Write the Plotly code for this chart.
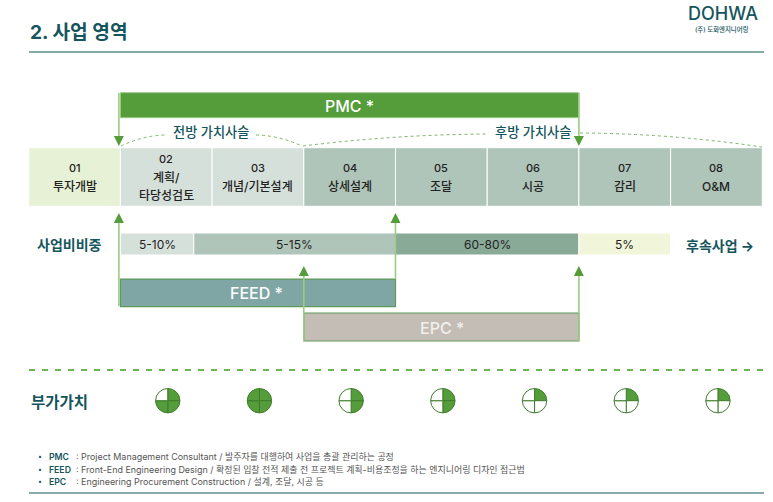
import plotly.graph_objects as go

# stage row
stage_nums = ["01", "02", "03", "04", "05", "06", "07", "08"]
stage_names = [["투자개발"], ["계획/", "타당성검토"], ["개념/기본설계"], ["상세설계"], ["조달"], ["시공"], ["감리"], ["O&M"]]
stage_colors = ["#E7F1D6", "#D6E0DB", "#D6E0DB", "#AFC5B9", "#AFC5B9", "#AFC5B9", "#AFC5B9", "#AFC5B9"]

# share of project cost, spans are in stage units
share_labels = ["5-10%", "5-15%", "60-80%", "5%"]
share_start = [1, 1.8, 4, 6]
share_end = [1.8, 4, 6, 7]
share_colors = ["#D6E0DB", "#AFC5B9", "#8AAA98", "#F1F5DA"]

# service bars
service_labels = ["PMC *", "FEED *", "EPC *"]
service_start = [1, 1, 3]
service_end = [6, 4, 6]

# filled quarters of each ball, clockwise from top right
ball_quarters = [
    [1, 1, 1, 0],
    [1, 1, 1, 1],
    [1, 1, 0, 0],
    [1, 1, 0, 0],
    [1, 0, 0, 0],
    [1, 0, 0, 0],
    [1, 0, 0, 0],
]

note_keys = ["PMC", "FEED", "EPC"]
note_texts = [
    ": Project Management Consultant / 발주자를 대행하여 사업을 총괄 관리하는 공정",
    ": Front-End Engineering Design / 확정된 입찰 전적 제출 전 프로젝트 계획-비용조정을 하는 엔지니어링 디자인 접근법",
    ": Engineering Procurement Construction / 설계, 조달, 시공 등",
]

W, H = 773, 502
X0, STEP = 28.7, 91.7
FONT = "Inter, 'Noto Sans CJK KR', sans-serif"
KR = "'Noto Sans CJK KR', sans-serif"
TEAL = "#15555C"
GREEN = "#549D3A"
LIGHT = "#9CCB86"
RULE = "#5F8F8C"


def px(u):
    return X0 + STEP * u


def unit(p):
    return (p - X0) / STEP


def label(fig, x, y, text, size, color="#222222", anchor="center", weight=400, family=FONT):
    fig.add_annotation(x=x, y=y, text=text, showarrow=False, xanchor=anchor, yanchor="middle",
                       font=dict(size=size, color=color, family=family, weight=weight))


fig = go.Figure()

# stages
fig.add_trace(go.Bar(y=[177] * 8, x=[1] * 8, base=list(range(8)), width=58.6, orientation="h",
                     marker=dict(color=stage_colors, line=dict(color="white", width=1)), hoverinfo="skip"))
for i, num in enumerate(stage_nums):
    lines = [num] + stage_names[i]
    for j, line in enumerate(lines):
        label(fig, i + 0.5, 177 + (j - (len(lines) - 1) / 2) * 18, line, 11 if j == 0 else 12, weight=500)

# shares
fig.add_trace(go.Bar(y=[244] * 4, x=[e - s for s, e in zip(share_start, share_end)], base=share_start,
                     width=22, orientation="h",
                     marker=dict(color=share_colors, line=dict(color="white", width=1)), hoverinfo="skip"))
for s, e, t in zip(share_start, share_end, share_labels):
    label(fig, (s + e) / 2, 244.5, t, 12)
label(fig, unit(69), 244.5, "사업비비중", 14, TEAL, weight=700)
label(fig, unit(720), 245, "후속사업 →", 14, TEAL, weight=700)

# service bars
fig.add_trace(go.Bar(y=[105.2], x=[service_end[0] - service_start[0]], base=[service_start[0]], width=25,
                     orientation="h", marker=dict(color=GREEN, line=dict(color=LIGHT, width=1)), hoverinfo="skip"))
fig.add_trace(go.Bar(y=[292.8], x=[service_end[1] - service_start[1]], base=[service_start[1]], width=27.5,
                     orientation="h", marker=dict(color="#7FA6A5", line=dict(color="#5E9A57", width=1.2)),
                     hoverinfo="skip"))
fig.add_trace(go.Bar(y=[327], x=[service_end[2] - service_start[2]], base=[service_start[2]], width=28,
                     orientation="h", marker=dict(color="#C3BDB6", line=dict(color="#5E9A57", width=1.2)),
                     hoverinfo="skip"))
label(fig, unit(349), 105.5, service_labels[0], 16, "white", weight=500)
label(fig, unit(256.5), 293, service_labels[1], 16, "white", weight=500)
label(fig, unit(441.5), 328, service_labels[2], 16, "#F2F0EC", weight=500)


# arrows: stem from y0 to the tip at y1
def arrow(u, y0, y1):
    d = 1 if y1 > y0 else -1
    xp = px(u) - (1.5 if u == 1 else 0)
    xu = unit(xp)
    fig.add_shape(type="line", x0=xu, x1=xu, y0=y0, y1=y1 - d * 8, line=dict(color=LIGHT, width=1.6))
    fig.add_shape(type="path", path=f"M {unit(xp - 5)} {y1 - d * 10} L {unit(xp + 5)} {y1 - d * 10} L {xu} {y1} Z",
                  fillcolor=GREEN, line=dict(width=0))


arrow(service_start[0], 93, 146)
arrow(service_end[0], 93, 146)
arrow(service_start[1], 306, 213)
arrow(service_end[1], 279, 213)
arrow(service_start[2], 341, 266)
arrow(service_end[2], 341, 266)

# dotted value-chain brackets
for (a, b), (c, d) in [((121, 146), (165, 135)), ((256, 135), (302, 146)),
                       ((303, 146), (488, 134)), ((580, 133), (762, 147))]:
    cy = min(b, d) + 0.5
    fig.add_shape(type="path", path=f"M {unit(a)} {b} Q {unit((a + c) / 2)} {cy} {unit(c)} {d}",
                  line=dict(color="#7DB56B", width=1, dash="dot"))
label(fig, unit(211), 132, "전방 가치사슬", 13.2, TEAL, weight=500)
label(fig, unit(532.5), 132, "후방 가치사슬", 13.2, TEAL, weight=500)

# rules
fig.add_shape(type="line", x0=unit(29), x1=unit(764), y0=52, y1=52, line=dict(color=RULE, width=1.3))
fig.add_shape(type="line", x0=unit(29), x1=unit(764), y0=493, y1=493, line=dict(color=RULE, width=1.3))
fig.add_shape(type="line", x0=unit(29), x1=unit(764), y0=370, y1=370, line=dict(color="#6DB552", width=2, dash="6px,7px"))

# header
label(fig, unit(28), 32, "2. 사업 영역", 19.2, TEAL, "left", 700)
label(fig, unit(722.5), 13.5, "DOHWA", 18, TEAL, weight=500)
label(fig, unit(721.5), 29, "(주) 도화엔지니어링", 6.4, TEAL, weight=500)

# value balls
label(fig, unit(28.5), 400.5, "부가가치", 15.5, TEAL, "left", 700, KR)
for i, quarters in enumerate(ball_quarters):
    c = px(i + 1.5) + 1.5
    r = 12.2
    fig.add_trace(go.Pie(values=[1, 1, 1, 1], sort=False, direction="clockwise", rotation=0,
                         marker=dict(colors=[GREEN if q else "white" for q in quarters],
                                     line=dict(color="#3F7D2C", width=1)),
                         textinfo="none", hoverinfo="skip", showlegend=False,
                         domain=dict(x=[(c - r) / W, (c + r) / W], y=[1 - (400.7 + r) / H, 1 - (400.7 - r) / H])))

# notes
for k, t, y in zip(note_keys, note_texts, [456.5, 469, 481]):
    label(fig, unit(40), y, "•", 7, TEAL)
    label(fig, unit(47), y + 0.5, k, 8.7, TEAL, "left", 600)
    label(fig, unit(73.8), y, t, 8.95, "#555555", "left")

fig.update_layout(width=W, height=H, margin=dict(l=0, r=0, t=0, b=0), barmode="overlay",
                  paper_bgcolor="white", plot_bgcolor="white", showlegend=False,
                  xaxis=dict(range=[unit(0), unit(W)], visible=False, fixedrange=True),
                  yaxis=dict(range=[H, 0], visible=False, fixedrange=True))

fig.write_html("out.html", config=dict(displayModeBar=False), post_script="document.body.style.margin='0';")
